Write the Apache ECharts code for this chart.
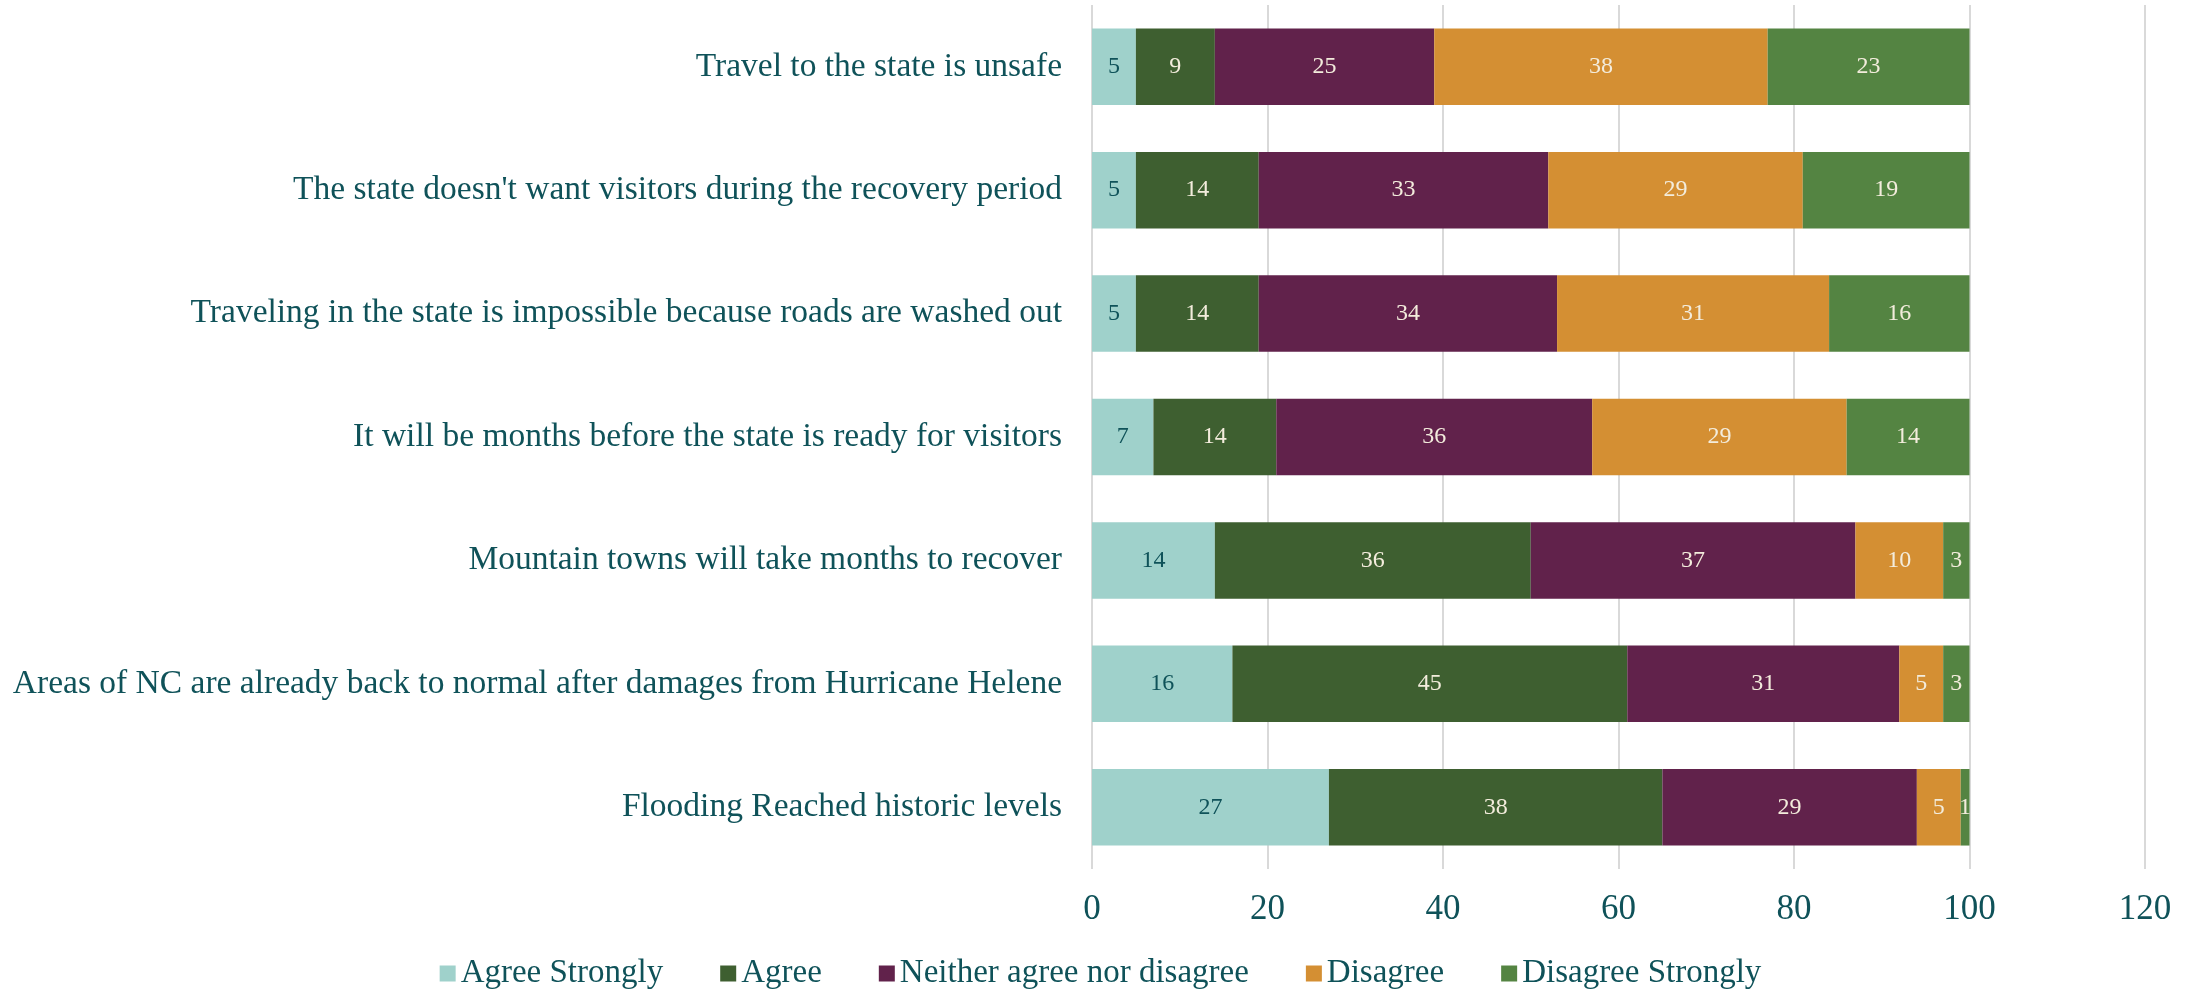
<!DOCTYPE html>
<html>
<head>
<meta charset="utf-8">
<script src="https://cdn.jsdelivr.net/npm/echarts@6/dist/echarts.min.js"></script>
<style>
  html, body { margin: 0; padding: 0; background: #fff; }
  #chart { width: 2201px; height: 991px; }
</style>
</head>
<body>
<div id="chart"></div>
<script>
// statements, top to bottom
var statements = [
    'Travel to the state is unsafe',
    "The state doesn't want visitors during the recovery period",
    'Traveling in the state is impossible because roads are washed out',
    'It will be months before the state is ready for visitors',
    'Mountain towns will take months to recover',
    'Areas of NC are already back to normal after damages from Hurricane Helene',
    'Flooding Reached historic levels'
];
var agreeStrongly    = [5, 5, 5, 7, 14, 16, 27];
var agree            = [9, 14, 14, 14, 36, 45, 38];
var neither          = [25, 33, 34, 36, 37, 31, 29];
var disagree         = [38, 29, 31, 29, 10, 5, 5];
var disagreeStrongly = [23, 19, 16, 14, 3, 3, 1];
var xTicks = [0, 20, 40, 60, 80, 100, 120];

var FONT = 'Liberation Serif';
var TEXT = '#0f5259';
var LIGHT = '#f3ecdc';

function makeSeries(name, data, color, labelColor) {
    return {
        name: name,
        type: 'bar',
        stack: 'total',
        data: data,
        barCategoryGap: '38%',
        itemStyle: { color: color },
        label: {
            show: true,
            position: 'inside',
            color: labelColor,
            fontFamily: FONT,
            fontSize: 24
        }
    };
}

var chart = echarts.init(document.getElementById('chart'));
chart.setOption({
    backgroundColor: '#ffffff',
    animation: false,
    grid: { left: 1092, right: 56, top: 5, bottom: 122, containLabel: false },
    legend: {
        top: 952,
        left: 'center',
        itemWidth: 16,
        itemHeight: 16,
        itemGap: 57,
        icon: 'rect',
        textStyle: { fontFamily: FONT, fontSize: 33, color: TEXT },
        data: ['Agree Strongly', 'Agree', 'Neither agree nor disagree', 'Disagree', 'Disagree Strongly']
    },
    xAxis: {
        type: 'value',
        min: xTicks[0],
        max: xTicks[xTicks.length - 1],
        interval: xTicks[1] - xTicks[0],
        axisLine: { show: false },
        axisTick: { show: false },
        splitLine: { show: true, lineStyle: { color: '#d9d9d9', width: 2 } },
        axisLabel: { fontFamily: FONT, fontSize: 35, color: TEXT, margin: 23 }
    },
    yAxis: {
        type: 'category',
        inverse: true,
        data: statements,
        axisLine: { show: false },
        axisTick: { show: false },
        axisLabel: { fontFamily: FONT, fontSize: 33.5, color: TEXT, margin: 30 }
    },
    series: [
        makeSeries('Agree Strongly', agreeStrongly, '#9fd1cb', TEXT),
        makeSeries('Agree', agree, '#3e5f30', LIGHT),
        makeSeries('Neither agree nor disagree', neither, '#61224b', LIGHT),
        makeSeries('Disagree', disagree, '#d48f33', LIGHT),
        makeSeries('Disagree Strongly', disagreeStrongly, '#548442', LIGHT)
    ]
});
</script>
</body>
</html>
